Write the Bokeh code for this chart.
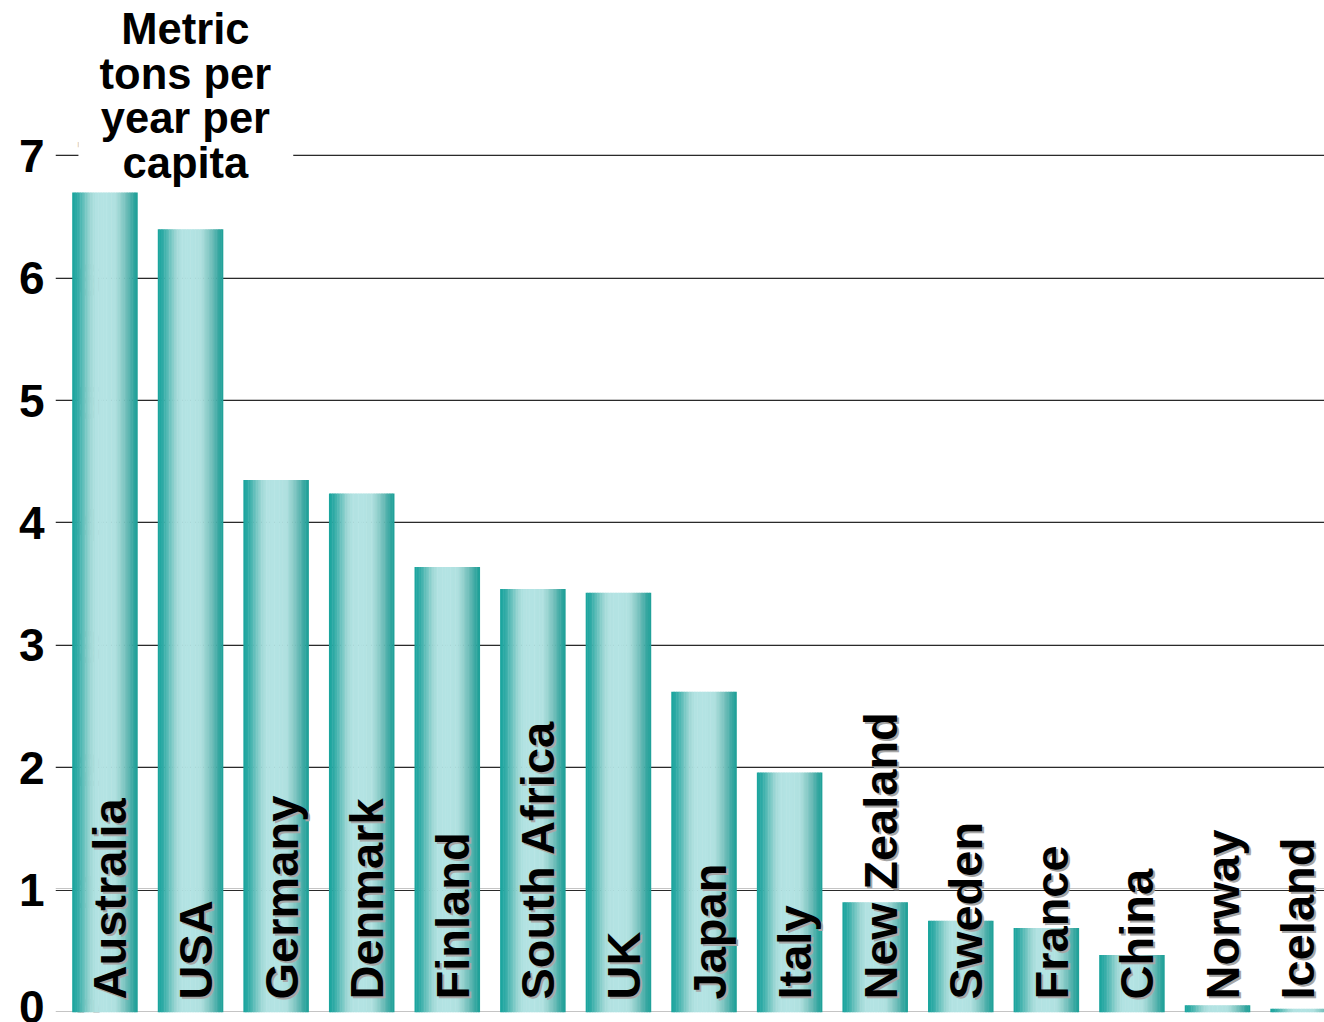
import numpy as np
from bokeh.plotting import figure
from bokeh.models import (ColumnDataSource, Range1d, FixedTicker, Grid, Label,
                          BoxAnnotation)
from bokeh.core.properties import value
from bokeh.embed import file_html
from bokeh.resources import INLINE

# Per-capita emissions, metric tons per year
countries = ["Australia", "USA", "Germany", "Denmark", "Finland", "South Africa",
             "UK", "Japan", "Italy", "New Zealand", "Sweden", "France", "China",
             "Norway", "Iceland"]
values = [6.70, 6.40, 4.35, 4.24, 3.64, 3.46, 3.43, 2.62, 1.96, 0.90, 0.75,
          0.69, 0.47, 0.06, 0.03]
y_ticks = [0, 1, 2, 3, 4, 5, 6, 7]
title_lines = ["Metric", "tons per", "year per", "capita"]

FONT = "Liberation Sans"

# the last name sits a little further left so it stays inside the page
label_nudge = {"Iceland": -11}

p = figure(width=1324, height=1022, output_backend="svg", toolbar_location=None,
           x_range=Range1d(-0.578, 14.25), y_range=Range1d(0, 8.268),
           x_axis_location=None, y_axis_location="left",
           min_border_left=55, min_border_right=0, min_border_top=0,
           min_border_bottom=10, outline_line_color=None,
           background_fill_color="white", border_fill_color="white")

# y axis: numbers only, no line or ticks
yax = p.yaxis[0]
yax.ticker = FixedTicker(ticks=y_ticks)
yax.axis_line_color = None
yax.major_tick_line_color = None
yax.minor_tick_line_color = None
yax.major_tick_out = 0
yax.major_tick_in = 0
yax.major_label_standoff = 11
yax.major_label_text_font = FONT
yax.major_label_text_font_style = "bold"
yax.major_label_text_font_size = "46px"
yax.major_label_text_color = "black"

# grey drop shadow behind each axis number
for t in y_ticks:
    p.add_layout(Label(x=46, y=t, x_units="screen", y_units="data",
                       y_offset=-2, text=str(t), text_align="right",
                       text_baseline="middle", text_font=FONT,
                       text_font_style="bold", text_font_size="46px",
                       text_color="#a6a6a6", level="underlay"))

# horizontal rules with a faint light edge just above each
p.xgrid.visible = False
p.ygrid.ticker = FixedTicker(ticks=y_ticks)
p.ygrid.grid_line_color = "#2a2a2a"
p.ygrid.grid_line_width = 1
edge_grid = Grid(dimension=1, ticker=FixedTicker(ticks=[t + 0.009 for t in y_ticks]),
                 grid_line_color="#c4c4c4", grid_line_width=1)
p.add_layout(edge_grid)

# white panel behind the unit caption
p.add_layout(BoxAnnotation(left=-0.31, right=2.20, bottom=6.76, top=None,
                           fill_color="white", fill_alpha=1.0, line_color=None,
                           level="underlay"))

# bars: each one built from thin vertical strips to give a cylinder shading
bar_w = 0.76
n_strips = 40
edges = np.linspace(-bar_w / 2, bar_w / 2, n_strips + 1)
offs = (edges[:-1] + edges[1:]) / 2
strip_w = bar_w / n_strips

prof_t = [0.0, 0.08, 0.18, 0.28, 0.36, 0.50, 0.66, 0.74, 0.84, 0.93, 1.0]
prof_r = [24, 48, 105, 160, 178, 180, 176, 150, 108, 58, 28]
prof_g = [164, 171, 194, 216, 226, 228, 225, 210, 188, 168, 160]
prof_b = [157, 166, 190, 214, 226, 228, 224, 207, 184, 162, 152]
tt = (offs + bar_w / 2) / bar_w
strip_colors = ["#%02x%02x%02x" % (int(np.interp(t, prof_t, prof_r)),
                                   int(np.interp(t, prof_t, prof_g)),
                                   int(np.interp(t, prof_t, prof_b))) for t in tt]

idx = np.arange(len(countries))
sx = (idx[:, None] + offs[None, :]).ravel()
stop = np.repeat(np.array(values), n_strips)
scol = strip_colors * len(countries)
p.vbar(x=sx, top=stop, bottom=0, width=strip_w * 1.3,
       fill_color=scol, line_color=None)

# vertical country names with a grey drop shadow
nudge = [label_nudge.get(c, 0) for c in countries]
for color, dx, dy in (("#a6a6a6", 2, 2), ("black", 0, 0)):
    lab = ColumnDataSource(dict(x=idx, y=[0] * len(countries), text=countries,
                                xo=[5 + dx + n for n in nudge]))
    p.text(x="x", y="y", text="text", source=lab, angle=np.pi / 2,
           x_offset="xo", y_offset=-13 + dy,
           text_align="left", text_baseline="alphabetic",
           text_font=value(FONT), text_font_style="bold",
           text_font_size="47px", text_color=color)

# unit caption
p.add_layout(Label(x=0.94, y=8.23, text="\n".join(title_lines),
                   text_align="center", text_baseline="top",
                   text_font=FONT, text_font_style="bold",
                   text_font_size="43.5px", text_line_height=0.93,
                   text_color="black"))

open("out.html", "w").write(file_html(p, INLINE))
